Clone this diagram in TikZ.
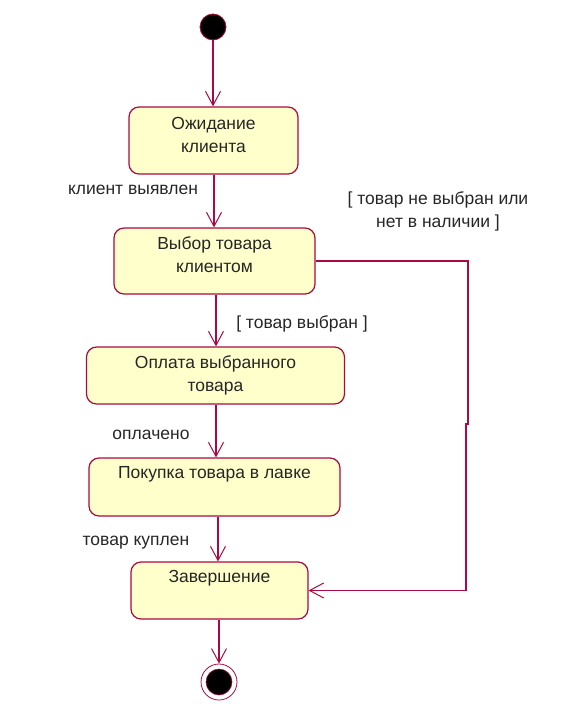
\documentclass[tikz,border=0pt]{standalone}
\usepackage{fontspec}
\setmainfont{Liberation Sans}
\usetikzlibrary{arrows.meta}
\definecolor{umlline}{RGB}{170,10,65}
\definecolor{umlfill}{RGB}{255,255,204}
\begin{document}
\begin{tikzpicture}[x=1pt,y=-1pt,
  statebox/.style={draw=umlline,fill=umlfill,line width=1.2pt,rounded corners=10pt,inner sep=0pt},
  stxt/.style={font=\fontsize{17.5}{23}\selectfont,align=center,anchor=north,inner sep=0pt,text=black!85},
  lbl/.style={font=\fontsize{17.5}{23}\selectfont,align=center,inner sep=0pt,text=black!85},
  arr/.style={draw=umlline,line width=1.2pt,-{Straight Barb[length=14pt,width=15pt,line width=1pt]}},
  conn/.style={draw=umlline,line width=1.2pt}]
\useasboundingbox (0,0) rectangle (576,728);
% initial state
\node[circle,fill=black,draw=umlline,line width=0.8pt,minimum size=26pt,inner sep=0pt] (start) at (213,27) {};
% states
\node[statebox,minimum width=169pt,minimum height=67pt] (b1) at (213.5,140.5) {};
\node[stxt] (t1) at (213.5,117.5) {Ожидание\\клиента};
\node[statebox,minimum width=201pt,minimum height=66pt] (b2) at (214.5,261) {};
\node[stxt] (t2) at (214.5,236.5) {Выбор товара\\клиентом};
\node[statebox,minimum width=258pt,minimum height=57pt] (b3) at (215.5,375.5) {};
\node[stxt] (t3) at (215.5,355.5) {Оплата выбранного\\товара};
\node[statebox,minimum width=251pt,minimum height=58pt] (b4) at (214.5,487) {};
\node[stxt] (t4) at (214.5,466.5) {Покупка товара в лавке};
\node[statebox,minimum width=177pt,minimum height=57pt] (b5) at (219.5,590.5) {};
\node[stxt] (t5) at (219.5,570.5) {Завершение};
% final state
\node[circle,draw=umlline,fill=white,line width=0.8pt,minimum size=36pt,inner sep=0pt] (fin) at (219,682) {};
\node[circle,fill=black,draw=umlline,line width=0.6pt,minimum size=26pt,inner sep=0pt] (fincore) at (219,682) {};
% transitions
\draw[arr] (start.south) -- (start.south |- b1.north);
\draw[arr] (b1.south -| 214,0) -- (214,0 |- b2.north);
\draw[arr] (b2.south -| 216,0) -- (216,0 |- b3.north);
\draw[arr] (b3.south -| 216,0) -- (216,0 |- b4.north);
\draw[arr] (b4.south -| 218,0) -- (218,0 |- b5.north);
\draw[arr] (b5.south -| fin) -- (fin.north);
\coordinate (c1) at (468,261);
\coordinate (c2) at (468,424);
\coordinate (c3) at (466,424);
\coordinate (c4) at (466,590.5);
\draw[conn] (b2.east |- c1) -- (c1) -- (c2) -- (c3) -- (c4);
\draw[arr] (c4) -- (b5.east);
% labels
\node[lbl] (l1) at (133,190) {клиент выявлен};
\node[lbl] (l2) at (438,211.5) {[ товар не выбран или\\нет в наличии ]};
\node[lbl] (l3) at (302,324) {[ товар выбран ]};
\node[lbl] (l4) at (151,435) {оплачено};
\node[lbl] (l5) at (136,543) {товар куплен};
\end{tikzpicture}
\end{document}
